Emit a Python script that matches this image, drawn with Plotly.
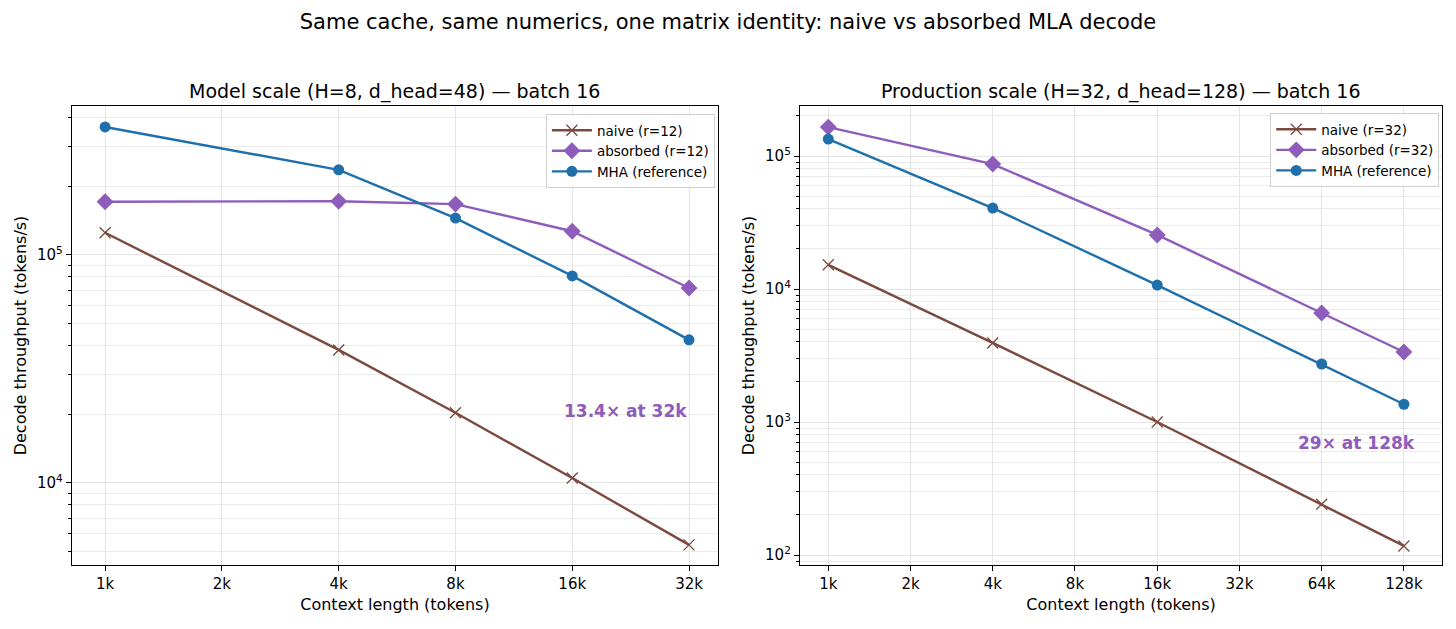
import plotly.graph_objects as go

# context lengths (tokens)
ctx_model = [1024, 4096, 8192, 16384, 32768]
ctx_prod = [1024, 4096, 16384, 65536, 131072]

# decode throughput (tokens/s)
naive_model = [125000, 38300, 20300, 10500, 5350]
absorbed_model = [171000, 172000, 167000, 127000, 71600]
mha_model = [364000, 236000, 145000, 80900, 42400]

naive_prod = [15200, 3930, 1000, 241, 117]
absorbed_prod = [165000, 87000, 25500, 6600, 3360]
mha_prod = [134000, 40600, 10700, 2730, 1360]

xticks_model = [1024, 2048, 4096, 8192, 16384, 32768]
xlabels_model = ['1k', '2k', '4k', '8k', '16k', '32k']
xticks_prod = [1024, 2048, 4096, 8192, 16384, 32768, 65536, 131072]
xlabels_prod = ['1k', '2k', '4k', '8k', '16k', '32k', '64k', '128k']

C_NAIVE = '#7b4a3e'
C_ABS = '#8e5cbb'
C_MHA = '#1f6faa'
FONT = 'DejaVu Sans'

fig = go.Figure()


def add_series(x, naive, absorbed, mha, r, xa, ya, leg):
    fig.add_trace(go.Scatter(
        x=x, y=naive, name=f'naive (r={r})', mode='lines+markers',
        line=dict(color=C_NAIVE, width=2.4),
        marker=dict(symbol='x-thin-open', size=11, line=dict(color=C_NAIVE, width=1.3)),
        xaxis=xa, yaxis=ya, legend=leg))
    fig.add_trace(go.Scatter(
        x=x, y=absorbed, name=f'absorbed (r={r})', mode='lines+markers',
        line=dict(color=C_ABS, width=2.4),
        marker=dict(symbol='diamond', size=13, color=C_ABS),
        xaxis=xa, yaxis=ya, legend=leg))
    fig.add_trace(go.Scatter(
        x=x, y=mha, name='MHA (reference)', mode='lines+markers',
        line=dict(color=C_MHA, width=2.4),
        marker=dict(symbol='circle', size=11, color=C_MHA),
        xaxis=xa, yaxis=ya, legend=leg))


add_series(ctx_model, naive_model, absorbed_model, mha_model, 12, 'x', 'y', 'legend')
add_series(ctx_prod, naive_prod, absorbed_prod, mha_prod, 32, 'x2', 'y2', 'legend2')


def minor_vals(e0, e1):
    return [k * 10 ** e for e in range(e0, e1) for k in range(2, 10)]


xcommon = dict(type='log', showline=True, linecolor='black', linewidth=1.4, mirror=True,
               ticks='outside', ticklen=5, tickcolor='black', showgrid=True,
               gridcolor='#e4e4e4', gridwidth=1, zeroline=False,
               tickfont=dict(family=FONT, size=15, color='black'),
               title=dict(text='Context length (tokens)', font=dict(family=FONT, size=16, color='black'),
                          standoff=6))
ycommon = dict(type='log', showline=True, linecolor='black', linewidth=1.4, mirror=True,
               ticks='outside', ticklen=5, tickcolor='black', showgrid=True,
               gridcolor='#e4e4e4', gridwidth=1, zeroline=False,
               tickfont=dict(family=FONT, size=15, color='black'),
               title=dict(text='Decode throughput (tokens/s)', font=dict(family=FONT, size=16, color='black'),
                          standoff=6))

# the page puts the plot 8px in from the top-left corner
fig.update_layout(
    width=1456, height=629,
    margin=dict(l=0, r=0, t=0, b=0),
    paper_bgcolor='white', plot_bgcolor='white',
    font=dict(family=FONT, color='black'),
    title=dict(text='Same cache, same numerics, one matrix identity: naive vs absorbed MLA decode',
               x=0.4945, xanchor='center', y=0.979, yanchor='middle',
               font=dict(family=FONT, size=21, color='black')),
    xaxis=dict(xcommon, domain=[0.04396, 0.4876], range=[2.925, 4.590],
               tickvals=xticks_model, ticktext=xlabels_model, anchor='y'),
    yaxis=dict(ycommon, domain=[0.1145, 0.8442], range=[3.64, 5.653],
               tickvals=[1e4, 1e5], ticktext=['10<sup>4</sup>', '10<sup>5</sup>'], anchor='x',
               minor=dict(tickvals=minor_vals(3, 6), ticks='outside', ticklen=3, tickcolor='black',
                          showgrid=True, gridcolor='#ebebeb', gridwidth=1)),
    xaxis2=dict(xcommon, domain=[0.5440, 0.9849], range=[2.907, 5.257],
                tickvals=xticks_prod, ticktext=xlabels_prod, anchor='y2'),
    yaxis2=dict(ycommon, domain=[0.1145, 0.8442], range=[1.925, 5.376],
                tickvals=[1e2, 1e3, 1e4, 1e5],
                ticktext=['10<sup>2</sup>', '10<sup>3</sup>', '10<sup>4</sup>', '10<sup>5</sup>'], anchor='x2',
                minor=dict(tickvals=minor_vals(1, 6), ticks='outside', ticklen=3, tickcolor='black',
                           showgrid=True, gridcolor='#ebebeb', gridwidth=1)),
    legend=dict(x=0.4855, y=0.8315, xanchor='right', yanchor='top',
                bgcolor='rgba(255,255,255,0.85)', bordercolor='#d0d0d0', borderwidth=1,
                font=dict(family=FONT, size=13.5, color='black'), tracegroupgap=0, itemwidth=40),
    legend2=dict(x=0.9830, y=0.833, xanchor='right', yanchor='top',
                 bgcolor='rgba(255,255,255,0.85)', bordercolor='#d0d0d0', borderwidth=1,
                 font=dict(family=FONT, size=13.5, color='black'), tracegroupgap=0, itemwidth=40),
    showlegend=True,
)

fig.add_annotation(text='Model scale (H=8, d_head=48) — batch 16', xref='paper', yref='paper',
                   x=(0.04396 + 0.4876) / 2, y=0.868, xanchor='center', yanchor='middle', showarrow=False,
                   font=dict(family=FONT, size=19, color='black'))
fig.add_annotation(text='Production scale (H=32, d_head=128) — batch 16', xref='paper', yref='paper',
                   x=(0.5440 + 0.9849) / 2, y=0.868, xanchor='center', yanchor='middle', showarrow=False,
                   font=dict(family=FONT, size=19, color='black'))

fig.add_annotation(text='<b>13.4× at 32k</b>', x=4.5154, y=4.316, xref='x', yref='y',
                   xanchor='right', yanchor='middle', showarrow=False,
                   font=dict(family=FONT, size=17, color=C_ABS))
fig.add_annotation(text='<b>29× at 128k</b>', x=5.1823, y=2.842, xref='x2', yref='y2',
                   xanchor='right', yanchor='middle', showarrow=False, xshift=-5,
                   font=dict(family=FONT, size=17, color=C_ABS))

fig.write_html('out.html')
